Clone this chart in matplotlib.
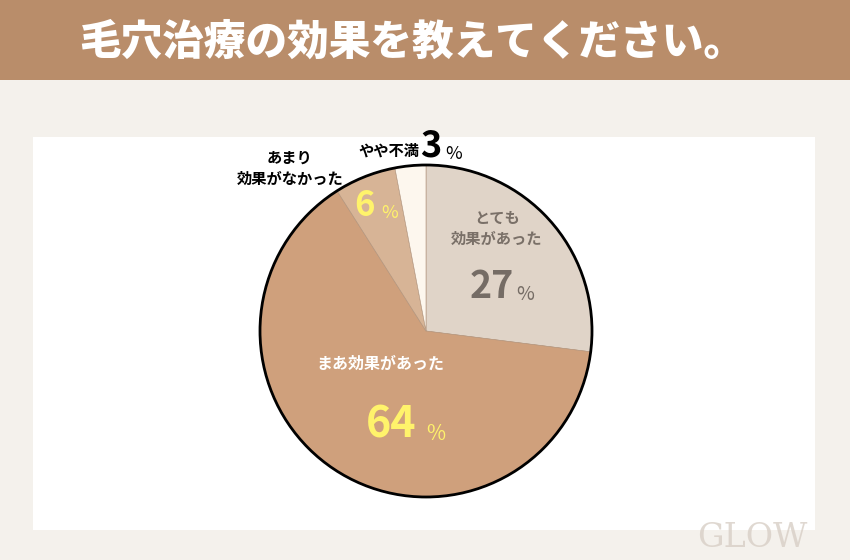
import matplotlib
matplotlib.use("Agg")
import matplotlib.pyplot as plt
from matplotlib.patches import Rectangle, Circle

plt.rcParams['font.family'] = ['Noto Sans CJK JP', 'DejaVu Sans']

# data
labels = ["とても\n効果があった", "まあ効果があった", "あまり\n効果がなかった", "やや不満"]
values = [27, 64, 6, 3]
colors = ["#e0d4c8", "#cfa07c", "#d7b496", "#fdf7ee"]
title = "毛穴治療の効果を教えてください。"

W, H = 850, 560
fig = plt.figure(figsize=(W / 100, H / 100), dpi=100)
fig.patch.set_facecolor("#f4f1ec")
ax = fig.add_axes([0, 0, 1, 1])

def Y(y):
    # convert from top-based pixel coordinate
    return H - y

# title bar
ax.add_patch(Rectangle((0, Y(80)), W, 80, facecolor="#b98d6a", edgecolor="none"))
ax.text(412, Y(43), title, color="white", fontsize=30, fontweight="heavy",
        ha="center", va="center")

# white panel
ax.add_patch(Rectangle((33, Y(530)), 782, 393, facecolor="white", edgecolor="none"))

# watermark
ax.text(752, Y(538), "GLOW", color="#d8cfc6", fontsize=24, ha="center",
        va="center", family="DejaVu Serif", alpha=0.8)

cx, cy, r = 426, Y(331), 166
wedges, _ = ax.pie(values, colors=colors, startangle=90, counterclock=False,
                   center=(cx, cy), radius=r, frame=True,
                   wedgeprops=dict(edgecolor="#b0927a", linewidth=0.4))
ax.set_xlim(0, W)
ax.set_ylim(0, H)
ax.set_aspect("equal")
ax.axis("off")
ax.add_patch(Circle((cx, cy), r, facecolor="none", edgecolor="black", linewidth=2, zorder=5))

# labels
ax.text(497, Y(228), labels[0], color="#7a7068", fontsize=11, fontweight="bold",
        ha="center", va="center", linespacing=1.4)
ax.text(492, Y(287), str(values[0]), color="#756c65", fontsize=27, fontweight="bold",
        ha="center", va="center")
ax.text(525, Y(295), "%", color="#756c65", fontsize=14, ha="center", va="center")

ax.text(380, Y(364), labels[1], color="white", fontsize=11.5, fontweight="bold",
        ha="center", va="center")
ax.text(391, Y(424), str(values[1]), color="#fff36b", fontsize=31, fontweight="bold",
        ha="center", va="center")
ax.text(436, Y(434), "%", color="#fff36b", fontsize=15, ha="center", va="center")

ax.text(290, Y(168), labels[2], color="black", fontsize=11, fontweight="bold",
        ha="center", va="center", linespacing=1.4)
ax.text(365, Y(206), str(values[2]), color="#fff36b", fontsize=25, fontweight="bold",
        ha="center", va="center")
ax.text(390, Y(213), "%", color="#fff36b", fontsize=13, ha="center", va="center")

ax.text(389, Y(151), labels[3], color="black", fontsize=11, fontweight="bold",
        ha="center", va="center")
ax.text(431, Y(146), str(values[3]), color="black", fontsize=26, fontweight="bold",
        ha="center", va="center")
ax.text(454, Y(154), "%", color="black", fontsize=13, ha="center", va="center")

fig.savefig("out.png", dpi=100)
